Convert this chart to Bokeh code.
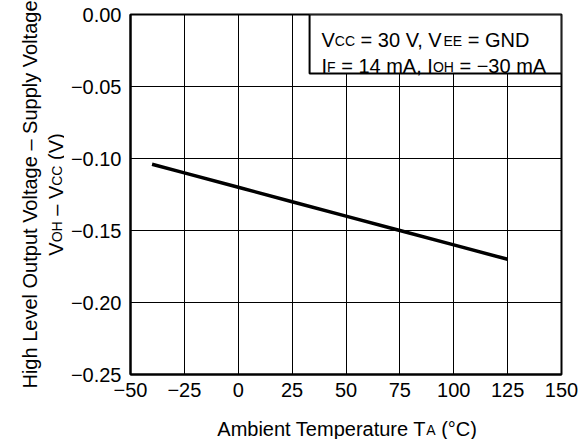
import math
from bokeh.plotting import figure
from bokeh.layouts import row, column
from bokeh.models import Range1d, Label, BoxAnnotation, FixedTicker
from bokeh.embed import file_html
from bokeh.resources import INLINE

# ---- data ----
temps = [-40, -25, 0, 25, 50, 75, 100, 125]
voh_minus_vcc = [-0.104, -0.110, -0.120, -0.130, -0.140, -0.150, -0.160, -0.170]

x_ticks = [-50, -25, 0, 25, 50, 75, 100, 125, 150]
x_tick_labels = ["\u221250", "\u221225", "0", "25", "50", "75", "100", "125", "150"]
y_ticks = [0.0, -0.05, -0.10, -0.15, -0.20, -0.25]
y_tick_labels = ["0.00", "\u22120.05", "\u22120.10", "\u22120.15", "\u22120.20", "\u22120.25"]

FONT = "Liberation Sans"
MAIN = 20
SUB = 14

W = {' ': 278, '=': 584, ',': 278, 'V': 667, 'C': 722, 'E': 667, 'G': 778, 'N': 722,
     'D': 722, 'I': 278, 'F': 611, 'm': 833, 'A': 667, 'O': 778, 'H': 722, '\u2212': 584,
     'b': 556, 'i': 222, 'e': 556, 'n': 556, 't': 278, 'T': 611, 'p': 556, 'r': 333,
     'a': 556, 'u': 556, '(': 333, ')': 333, '\u00b0': 400, '\u2013': 556}
for d in "0123456789":
    W[d] = 556


def tw(s, size):
    return sum(W.get(c, 556) for c in s) * size / 1000.0


def runs_width(runs):
    return sum(tw(t, SUB if s else MAIN) for t, s in runs)


def add_runs(fig, runs, x0, y0, angle=0.0, units="data"):
    pos = 0.0
    for i, (txt, sub) in enumerate(runs):
        size = SUB if sub else MAIN
        shift = -1.5 if sub else 0.0
        w = tw(txt, size)
        # the first main piece is anchored at its end so that a following
        # subscript sits right against it
        right = (i == 0 and not sub and len(runs) > 1 and runs[1][1])
        if right:
            off = pos + w
            align = "right"
        else:
            lead = len(txt) - len(txt.lstrip(" "))
            off = pos + tw(" " * lead, size)
            align = "left"
        if angle == 0.0:
            x, y = x0 + off, y0 + shift
        else:
            x, y = x0 - shift, y0 + off
        fig.add_layout(Label(x=x, y=y, x_units=units, y_units=units, text=txt.strip(" "),
                             angle=angle, text_font=FONT, text_font_size=f"{size}px",
                             text_color="black", text_align=align,
                             text_baseline="alphabetic"))
        pos += w


def blank_fig(w, h, **borders):
    b = dict(min_border_left=0, min_border_right=0, min_border_top=0, min_border_bottom=0)
    b.update(borders)
    f = figure(width=w, height=h, output_backend="svg", toolbar_location=None,
               x_range=Range1d(0, 1), y_range=Range1d(0, 1),
               x_axis_type=None, y_axis_type=None, min_border=0, **b)
    f.outline_line_color = None
    f.background_fill_color = "white"
    f.border_fill_color = "white"
    return f


LEFT_W = 64
MAIN_W = 585 - LEFT_W
MAIN_H = 405
XL_H = 439 - MAIN_H
FR_L = 130 - LEFT_W             # frame left inside main figure
FR_R = MAIN_W - (561 - LEFT_W)  # border right of main figure

# ---- main chart ----
p = figure(width=MAIN_W, height=MAIN_H, output_backend="svg", toolbar_location=None,
           x_range=Range1d(-50, 150), y_range=Range1d(-0.25, 0.0),
           min_border_left=FR_L, min_border_right=FR_R,
           min_border_top=14, min_border_bottom=MAIN_H - 374)

p.background_fill_color = "white"
p.border_fill_color = "white"
p.outline_line_color = "black"
p.outline_line_width = 2

p.xaxis.ticker = FixedTicker(ticks=x_ticks)
p.yaxis.ticker = FixedTicker(ticks=y_ticks)
p.xaxis.major_label_overrides = dict(zip(x_ticks, x_tick_labels))
p.yaxis.major_label_overrides = dict(zip(y_ticks, y_tick_labels))
for ax in (p.xaxis[0], p.yaxis[0]):
    ax.axis_line_color = "black"
    ax.axis_line_width = 2
    ax.major_tick_in = 0
    ax.major_tick_out = 0
    ax.minor_tick_in = 0
    ax.minor_tick_out = 0
    ax.major_label_text_font = FONT
    ax.major_label_text_font_size = f"{MAIN}px"
    ax.major_label_text_color = "black"
p.xaxis.major_label_standoff = 8
p.yaxis.major_label_standoff = 9

for g in (p.xgrid[0], p.ygrid[0]):
    g.grid_line_color = "black"
    g.grid_line_width = 1
    g.grid_line_alpha = 1.0

p.line(temps, voh_minus_vcc, line_color="black", line_width=3.5)

# condition box
p.add_layout(BoxAnnotation(left=33.1, right=150, bottom=-0.041, top=0.0,
                           fill_color="white", fill_alpha=1.0,
                           line_color="black", line_alpha=1.0, line_width=2))

leg1 = [("V", False), ("CC", True), (" = 30 V, V", False), ("EE", True), (" = GND", False)]
leg2 = [("I", False), ("F", True), (" = 14 mA, I", False), ("OH", True), (" = \u221230 mA", False)]
add_runs(p, leg1, 191, 335, units="screen")
add_runs(p, leg2, 191, 309, units="screen")

# ---- x axis title (same frame geometry as the chart) ----
fx = blank_fig(MAIN_W, XL_H, min_border_left=FR_L, min_border_right=FR_R)
xl = [("Ambient Temperature T", False), ("A", True), (" (\u00b0C)", False)]
frame_w = 561 - 130
add_runs(fx, xl, frame_w / 2 - runs_width(xl) / 2, XL_H - (428 - MAIN_H), units="screen")

# ---- y axis title ----
fy = blank_fig(LEFT_W, 439)
fy.x_range = Range1d(0, LEFT_W)
fy.y_range = Range1d(0, 439)
yc = 439 - 194
fy.add_layout(Label(x=29, y=yc, text="High Level Output Voltage \u2013 Supply Voltage",
                    angle=math.pi / 2, text_font=FONT, text_font_size=f"{MAIN}px",
                    text_color="black", text_align="center", text_baseline="alphabetic"))
yl = [("V", False), ("OH", True), (" \u2013 V", False), ("CC", True), (" (V)", False)]
add_runs(fy, yl, 55, yc - runs_width(yl) / 2, angle=math.pi / 2)

layout = row(fy, column(p, fx))
open("out.html", "w").write(file_html(layout, INLINE))
